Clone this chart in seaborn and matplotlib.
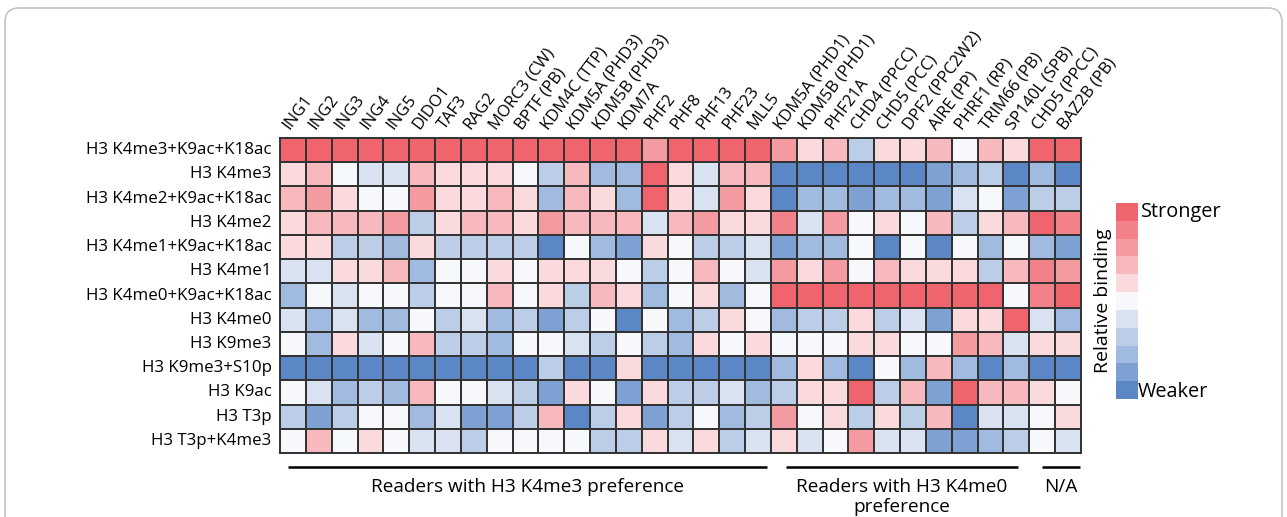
import numpy as np
import pandas as pd
import seaborn as sns
import matplotlib.pyplot as plt
from matplotlib.colors import ListedColormap
from matplotlib.patches import FancyBboxPatch
from matplotlib.transforms import IdentityTransform, ScaledTranslation

# ---- data ----
readers = ["ING1", "ING2", "ING3", "ING4", "ING5", "DIDO1", "TAF3", "RAG2",
           "MORC3 (CW)", "BPTF (PB)", "KDM4C (TTP)", "KDM5A (PHD3)", "KDM5B (PHD3)",
           "KDM7A", "PHF2", "PHF8", "PHF13", "PHF23", "MLL5",
           "KDM5A (PHD1)", "KDM5B (PHD1)", "PHF21A", "CHD4 (PPCC)", "CHD5 (PCC)",
           "DPF2 (PPC2W2)", "AIRE (PP)", "PHRF1 (RP)", "TRIM66 (PB)", "SP140L (SPB)",
           "CHD5 (PPCC)", "BAZ2B (PB)"]

marks = ["H3 K4me3+K9ac+K18ac", "H3 K4me3", "H3 K4me2+K9ac+K18ac", "H3 K4me2",
         "H3 K4me1+K9ac+K18ac", "H3 K4me1", "H3 K4me0+K9ac+K18ac", "H3 K4me0",
         "H3 K9me3", "H3 K9me3+S10p", "H3 K9ac", "H3 T3p", "H3 T3p+K4me3"]

# relative binding, discrete levels -5 (weaker) .. 5 (stronger)
binding = [
    [5, 5, 5, 5, 5, 5, 5, 5, 5, 5, 5, 5, 5, 5, 3, 5, 5, 5, 5, 3, 1, 2, -2, 1, 1, 2, 0, 2, 1, 5, 5],
    [1, 2, 0, -1, -1, 2, 1, 1, 1, 0, -2, 2, -3, -3, 5, 1, -1, 2, 2, -5, -5, -5, -5, -5, -5, -4, -3, -2, -5, -3, -5],
    [2, 3, 1, 0, 0, 3, 1, 1, 2, 1, -3, 2, 1, -3, 5, 1, -1, 3, 1, -5, -3, -3, -4, -3, -3, -4, -1, 0, -4, -2, -2],
    [1, 2, 2, 2, 3, -2, 1, 2, 2, 1, 3, 2, 2, 2, -1, 2, 3, 1, 1, 4, -1, 3, 0, 1, 0, 2, -2, 1, 2, 5, 4],
    [1, 1, -2, -2, -3, 1, -2, -2, -2, -2, -5, 0, -3, -4, 1, 0, -2, -2, -1, -4, -3, -3, 0, -5, 0, -5, 0, -3, 0, -3, -4],
    [-1, -1, 1, 1, 2, -3, 0, 0, 1, 0, 1, 1, 1, 0, -2, 0, 2, 0, -1, 3, 1, 3, 0, 2, 1, 1, 1, -2, 2, 4, 3],
    [-3, 0, -1, 0, 0, -2, 0, 0, 2, 0, 1, -2, 2, 1, -3, 0, 1, -3, 0, 5, 5, 5, 5, 5, 5, 5, 5, 5, 0, 4, 5],
    [-1, -3, -1, -3, -3, 0, -2, -1, -3, -2, -4, -2, 0, -5, 0, -3, -2, 1, 0, -3, -2, -2, 1, -2, -1, -4, 1, 1, 5, -1, -3],
    [0, -3, 1, -1, 0, 2, -2, -2, -3, 0, 0, -1, -2, 0, -2, -3, 1, 0, 1, 0, 0, 0, 1, 1, 0, 0, 3, 2, -1, 1, 1],
    [-5, -5, -5, -5, -5, -5, -5, -5, -5, -5, -2, -5, -5, 1, -5, -5, -5, -5, -5, -3, 1, -3, -5, 0, -3, 2, -3, -5, -3, -5, -5],
    [0, -1, -3, -2, -3, 2, 0, 0, -1, -2, -4, 1, 0, -4, 1, -2, -2, -1, -3, -2, 1, 1, 5, -2, 2, -4, 5, 2, 2, 1, 0],
    [-2, -4, -2, 0, 0, -3, -1, -4, -4, -2, 2, -5, -2, 1, -4, -2, 0, -3, -2, 3, 0, 1, -2, 1, -2, 2, -5, -1, -1, 0, 1],
    [0, 2, 0, 1, 0, -1, -1, -2, 0, 0, 0, 0, -2, -2, 1, -1, 1, -2, -1, 1, -1, 0, 3, -1, -1, -4, -4, -3, -2, 0, -1],
]

group_names = ["Readers with H3 K4me3 preference", "Readers with H3 K4me0\npreference", "N/A"]
group_sizes = [19, 10, 2]

level_colors = ["#5b87c6", "#7ea1d3", "#a1badf", "#bccde8", "#d8e2f1", "#f7f8fc",
                "#fadadd", "#f7b9be", "#f49ba2", "#f2818a", "#f0646e"]

# ---- plot ----
sns.set_theme(style="white")
plt.rcParams["font.family"] = ["Open Sans", "DejaVu Sans"]
plt.rcParams["text.color"] = "black"
plt.rcParams["xtick.labelcolor"] = "black"
plt.rcParams["ytick.labelcolor"] = "black"

fig = plt.figure(figsize=(12.87, 5.17), dpi=100)
W, H = 1287, 517
ax = fig.add_axes([280 / W, 1 - 453 / H, 801 / W, 315 / H])
cax = fig.add_axes([1116 / W, 1 - 399 / H, 22 / W, 196 / H])

df = pd.DataFrame(binding, index=marks, columns=readers)
cmap = ListedColormap(level_colors)
sns.heatmap(df, ax=ax, cbar_ax=cax, cmap=cmap, vmin=-5.5, vmax=5.5,
            linewidths=1.4, linecolor="#333333")

ax.xaxis.tick_top()
ax.set_xticklabels(readers, rotation=53, ha="left", va="bottom",
                   rotation_mode="anchor", fontsize=11.9)
shift = ScaledTranslation(5 / 100, 0, fig.dpi_scale_trans)
for lab in ax.get_xticklabels():
    lab.set_transform(lab.get_transform() + shift)
ax.set_yticklabels(marks, rotation=0, fontsize=12.2)
ax.tick_params(axis="x", length=0, pad=4)
ax.tick_params(axis="y", length=0, pad=6)
ax.set_xlabel("")
ax.set_ylabel("")
for s in ax.spines.values():
    s.set_visible(True)
    s.set_color("#333333")
    s.set_linewidth(1.4)

# colour legend
cbar = ax.collections[0].colorbar
cbar.outline.set_visible(False)
cbar.set_ticks([])
fig.text(1141 / W, 1 - 212 / H, "Stronger", ha="left", va="center", fontsize=14.3)
fig.text(1138 / W, 1 - 392 / H, "Weaker", ha="left", va="center", fontsize=14.3)
fig.text(1103 / W, 1 - 301 / H, "Relative binding", ha="center", va="center",
         rotation=90, fontsize=14)

# group brackets under the heatmap
start_inset = [0.3, 0.6, 0.5]
end_inset = [0.16, 0.45, 0.05]
start = 0
n_rows = len(marks)
for name, size, si, ei in zip(group_names, group_sizes, start_inset, end_inset):
    end = start + size
    x0, x1 = start + si, end - ei
    ax.plot([x0, x1], [n_rows + 0.58, n_rows + 0.58], color="black", lw=1.8,
            clip_on=False, solid_capstyle="butt")
    ax.text((x0 + x1) / 2, n_rows + 1.05, name, ha="center", va="top",
            fontsize=13.7, linespacing=1.1)
    start = end

# journal frame
frame = FancyBboxPatch((5, -30), 1277, 539, boxstyle="round,pad=0,rounding_size=14",
                       transform=IdentityTransform(), fill=False,
                       edgecolor="#c4c4c4", lw=1.2)
fig.add_artist(frame)

fig.savefig("out.png", dpi=100)
